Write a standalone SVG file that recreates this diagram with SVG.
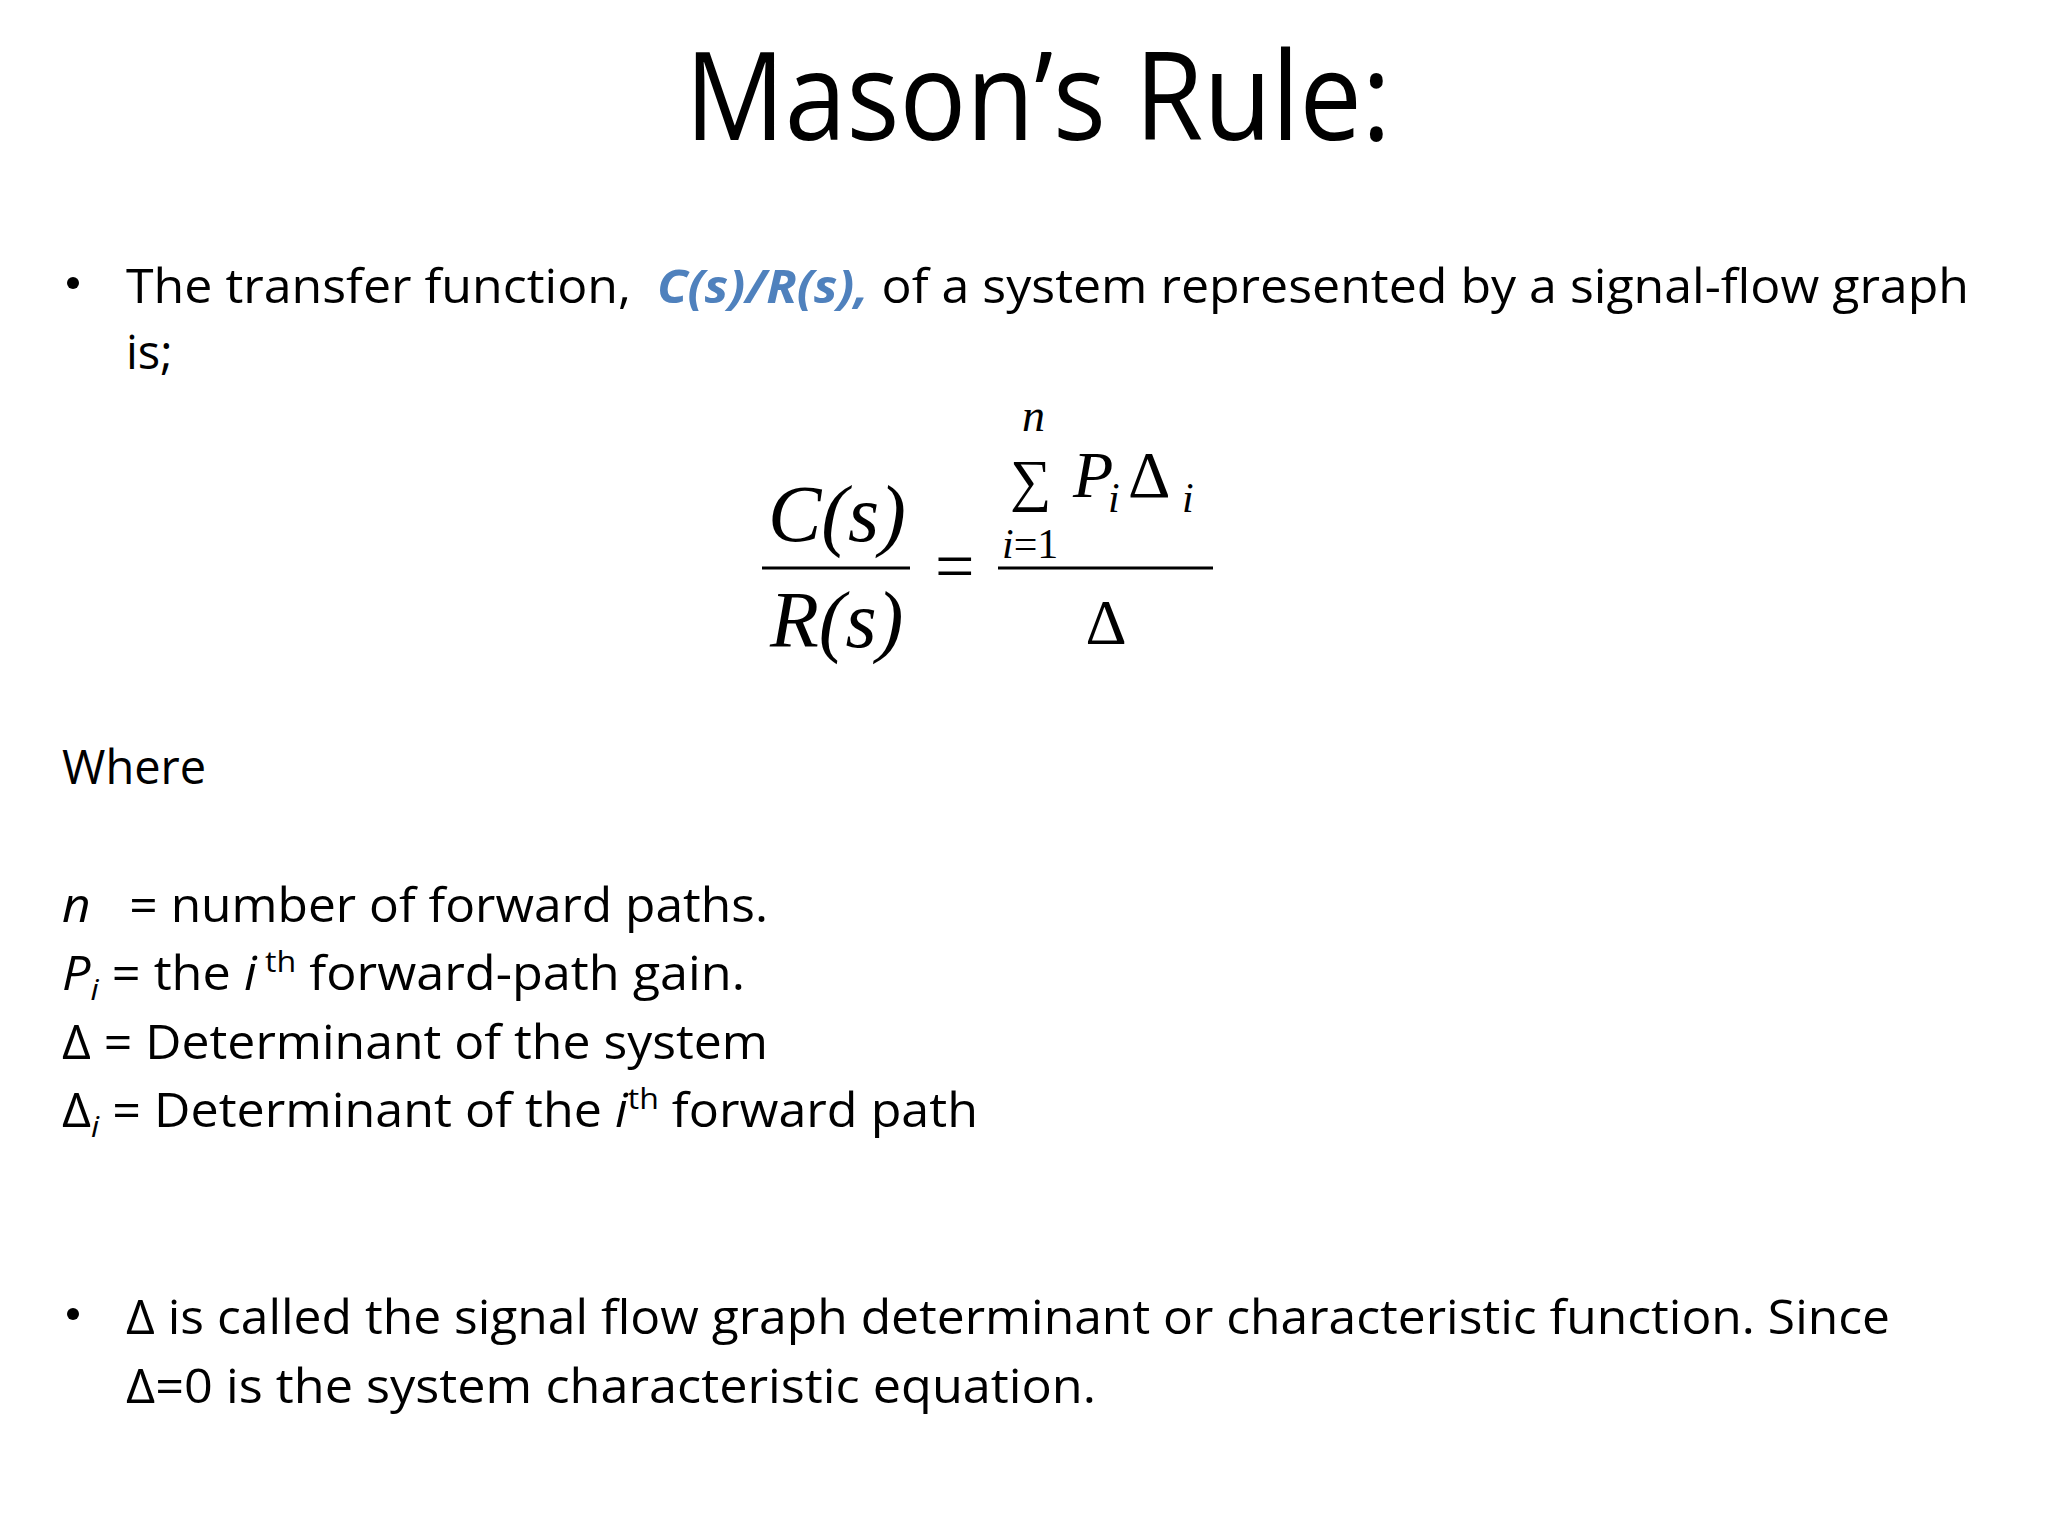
<svg xmlns="http://www.w3.org/2000/svg" width="2048" height="1536" viewBox="0 0 2048 1536">
<style>
.t{font-family:"Open Sans","Liberation Sans",sans-serif;font-size:47px;fill:#000}
.m{font-family:"Liberation Serif","Times New Roman",serif;fill:#000}
.i{font-style:italic}
</style>
<rect width="2048" height="1536" fill="#fff"/>
<g id="title"><text x="1038" y="140" text-anchor="middle" font-family="Open Sans,Liberation Sans,sans-serif" font-size="122" textLength="706" lengthAdjust="spacingAndGlyphs">Mason’s Rule:</text></g>
<g id="bullet1">
<circle cx="73" cy="283" r="6"/>
<text class="t" x="126" y="303" textLength="1843" lengthAdjust="spacingAndGlyphs" xml:space="preserve">The transfer function,  <tspan fill="#4f81bd" font-weight="bold" font-style="italic">C(s)/R(s),</tspan> of a system represented by a signal-flow graph</text>
<text class="t" x="126" y="369">is;</text>
</g>
<g id="formula" transform="translate(-8,-5)">
<text class="m i" x="776" y="546" font-size="80">C(s)</text>
<line x1="770" y1="573" x2="918" y2="573" stroke="#000" stroke-width="3"/>
<text class="m i" x="778" y="652" font-size="80">R(s)</text>
<text class="m" x="943" y="595" font-size="70">=</text>
<text class="m i" x="1030" y="436" font-size="46">n</text>
<text class="m" x="1018" y="505" font-size="58">∑</text>
<text class="m i" x="1081" y="502" font-size="66">P</text>
<text class="m i" x="1116" y="517" font-size="42">i</text>
<text class="m" x="1136" y="502" font-size="66">Δ</text>
<text class="m i" x="1190" y="517" font-size="42">i</text>
<text class="m" x="1010" y="563" font-size="42"><tspan font-style="italic">i</tspan>=1</text>
<line x1="1006" y1="573" x2="1221" y2="573" stroke="#000" stroke-width="3"/>
<text class="m" x="1114" y="649" font-size="64" text-anchor="middle">Δ</text>
</g>
<g id="defs-text">
<text class="t" x="62" y="784">Where</text>
<text class="t" x="62" y="922" textLength="706" lengthAdjust="spacingAndGlyphs" xml:space="preserve"><tspan font-style="italic">n</tspan>   = number of forward paths.</text>
<text class="t" x="62" y="990" textLength="683" lengthAdjust="spacingAndGlyphs"><tspan font-style="italic">P</tspan><tspan font-style="italic" font-size="30" dy="10">i</tspan><tspan dy="-10"> = the </tspan><tspan font-style="italic">i</tspan><tspan font-size="30" dy="-18"> th</tspan><tspan dy="18"> forward-path gain.</tspan></text>
<text class="t" x="62" y="1059" textLength="706" lengthAdjust="spacingAndGlyphs">Δ = Determinant of the system</text>
<text class="t" x="62" y="1127" textLength="916" lengthAdjust="spacingAndGlyphs">Δ<tspan font-style="italic" font-size="30" dy="10">i</tspan><tspan dy="-10"> = Determinant of the </tspan><tspan font-style="italic">i</tspan><tspan font-size="30" dy="-18">th</tspan><tspan dy="18"> forward path</tspan></text>
</g>
<g id="bullet2">
<circle cx="73" cy="1314" r="6"/>
<text class="t" x="126" y="1334" textLength="1764" lengthAdjust="spacingAndGlyphs">Δ is called the signal flow graph determinant or characteristic function. Since</text>
<text class="t" x="126" y="1403" textLength="970" lengthAdjust="spacingAndGlyphs">Δ=0 is the system characteristic equation.</text>
</g>
</svg>
